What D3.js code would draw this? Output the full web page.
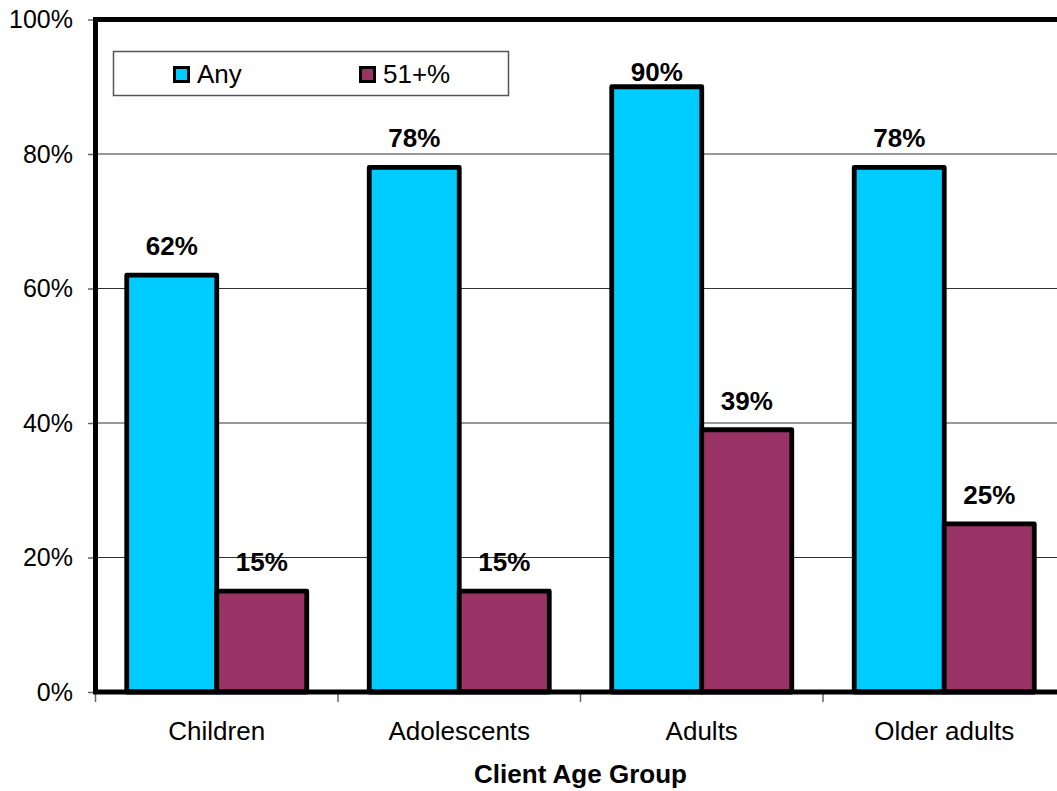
<!DOCTYPE html>
<html>
<head>
<meta charset="utf-8">
<script src="https://cdn.jsdelivr.net/npm/d3@7"></script>
<style>
  html, body { margin: 0; padding: 0; background: #fff; }
  svg { display: block; font-family: "Liberation Sans", Arial, sans-serif; }
</style>
</head>
<body>
<svg id="chart" width="1057" height="791"></svg>
<script>
// Share of clients, by age group
const categories = ["Children", "Adolescents", "Adults", "Older adults"];
const seriesNames = ["Any", "51+%"];
const anyValues = [62, 78, 90, 78];
const over51Values = [15, 15, 39, 25];
const yTicks = [0, 20, 40, 60, 80, 100];
const axisTitle = "Client Age Group";

const colors = { "Any": "#00CCFF", "51+%": "#993366" };

(function draw() {
  const svg = d3.select("#chart");
  const plotLeft = 95.5, plotRight = 1065.5, plotTop = 19.5, plotBottom = 692;

  const x = d3.scaleBand().domain(categories).range([plotLeft, plotRight]).padding(0);
  const xSub = d3.scaleBand().domain(seriesNames).range([0, x.bandwidth()])
    .paddingInner(0).paddingOuter(0.347);
  const y = d3.scaleLinear().domain([0, 100]).range([plotBottom, plotTop]);

  const rows = categories.map((c, i) => ({
    category: c,
    values: [
      { series: "Any", value: anyValues[i] },
      { series: "51+%", value: over51Values[i] }
    ]
  }));

  // gridlines
  svg.append("g").selectAll("line")
    .data(yTicks.filter(t => t > 0 && t < 100))
    .join("line")
    .attr("x1", plotLeft).attr("x2", plotRight)
    .attr("y1", d => y(d)).attr("y2", d => y(d))
    .attr("stroke", "#333").attr("stroke-width", 1);

  // y axis ticks and labels
  const yAxis = svg.append("g")
    .attr("transform", `translate(${plotLeft},0)`)
    .call(d3.axisLeft(y).tickValues(yTicks).tickFormat(d => d + "%").tickSize(7.5).tickPadding(15));
  yAxis.select(".domain").remove();
  yAxis.selectAll(".tick line").attr("stroke", "#666").attr("stroke-width", 1.5);
  yAxis.selectAll(".tick text")
    .attr("font-size", 25).attr("fill", "#000")
    .attr("font-family", "'Liberation Sans', Arial, sans-serif");

  // x axis boundary ticks
  const boundaries = categories.map(c => x(c)).concat([plotRight]);
  svg.append("g").selectAll("line")
    .data(boundaries)
    .join("line")
    .attr("x1", d => d).attr("x2", d => d)
    .attr("y1", plotBottom).attr("y2", plotBottom + 10)
    .attr("stroke", "#666").attr("stroke-width", 1.5);

  // category labels
  svg.append("g").selectAll("text")
    .data(categories)
    .join("text")
    .attr("x", d => x(d) + x.bandwidth() / 2)
    .attr("y", 740)
    .attr("text-anchor", "middle")
    .attr("font-size", 26)
    .text(d => d);

  // axis title
  svg.append("text")
    .attr("x", (plotLeft + plotRight) / 2)
    .attr("y", 783)
    .attr("text-anchor", "middle")
    .attr("font-size", 26)
    .attr("font-weight", "bold")
    .text(axisTitle);

  // bars
  const groups = svg.append("g").selectAll("g")
    .data(rows)
    .join("g")
    .attr("transform", d => `translate(${x(d.category)},0)`);

  groups.selectAll("rect")
    .data(d => d.values)
    .join("rect")
    .attr("x", d => xSub(d.series))
    .attr("width", xSub.bandwidth())
    .attr("y", d => y(d.value))
    .attr("height", d => y(0) - y(d.value))
    .attr("fill", d => colors[d.series])
    .attr("stroke", "#000")
    .attr("stroke-width", 4.8)
    .attr("stroke-linejoin", "round");

  // value labels
  groups.selectAll("text")
    .data(d => d.values)
    .join("text")
    .attr("x", d => xSub(d.series) + xSub.bandwidth() / 2)
    .attr("y", d => Math.max(y(d.value) - 20, 81))
    .attr("text-anchor", "middle")
    .attr("font-size", 26)
    .attr("font-weight", "bold")
    .text(d => d.value + "%");

  // plot frame
  svg.append("path")
    .attr("d", `M${plotRight},${plotTop} H${plotLeft} V${plotBottom} H${plotRight}`)
    .attr("fill", "none")
    .attr("stroke", "#000")
    .attr("stroke-width", 5);

  // legend
  const legend = svg.append("g");
  legend.append("rect")
    .attr("x", 113.5).attr("y", 51.5)
    .attr("width", 395).attr("height", 44)
    .attr("fill", "#fff")
    .attr("stroke", "#555").attr("stroke-width", 1.5);

  const legendX = d3.scalePoint().domain(seriesNames).range([173, 359]);
  const items = legend.selectAll("g.item")
    .data(seriesNames)
    .join("g")
    .attr("class", "item")
    .attr("transform", d => `translate(${legendX(d)},66)`);
  items.append("rect")
    .attr("x", 1.5).attr("y", 1.5)
    .attr("width", 14).attr("height", 14)
    .attr("fill", d => colors[d])
    .attr("stroke", "#000").attr("stroke-width", 3);
  items.append("text")
    .attr("x", 24).attr("y", 17)
    .attr("font-size", 26)
    .text(d => d);
})();
</script>
</body>
</html>
